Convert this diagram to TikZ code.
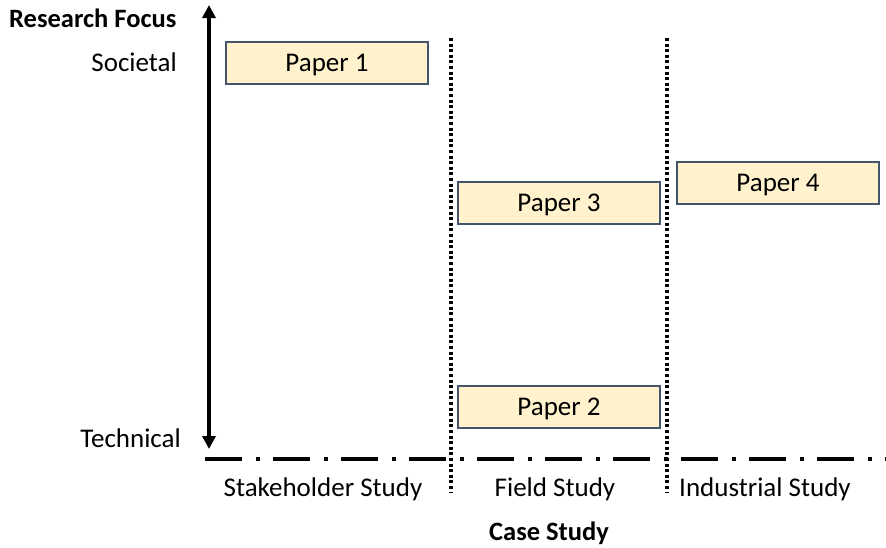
\documentclass[tikz,border=0pt]{standalone}
\usepackage{fontspec}
\setmainfont{Carlito}
\usetikzlibrary{arrows.meta}
\definecolor{paperfill}{HTML}{FFF2CC}
\definecolor{paperedge}{HTML}{44546A}
\begin{document}
\begin{tikzpicture}[x=1pt,y=-1pt,
  txt/.style={inner sep=0pt, font=\fontsize{27}{31}\selectfont},
  boldtxt/.style={txt, font=\fontsize{26.5}{31}\selectfont\bfseries},
  paper/.style={draw=paperedge, fill=paperfill, line width=1.3pt,
    minimum width=202pt, minimum height=42pt, inner sep=0pt, text depth=0pt,
    font=\fontsize{27}{31}\selectfont},
  divider/.style={line width=3.2pt, dash pattern=on 3pt off 2.6pt},
  baseline/.style={line width=4.5pt, dash pattern=on 37pt off 14pt on 4pt off 13pt}]
\useasboundingbox (0,0) rectangle (886,547);

% vertical axis
\coordinate (top) at (209,5);
\coordinate (bot) at (209,449);
\draw[line width=4pt, {Triangle[length=13pt,width=13pt]}-{Triangle[length=13pt,width=13pt]}] (top) -- (bot);

% horizontal axis
\coordinate (hl) at (205,459);
\coordinate (hr) at (886,459);
\draw[baseline] (hl) -- (hr);

% column dividers
\coordinate (d1t) at (451,38);
\coordinate (d1b) at (451,493);
\coordinate (d2t) at (667,38);
\coordinate (d2b) at (667,493);
\draw[divider] (d1t) -- (d1b);
\draw[divider] (d2t) -- (d2b);

% axis labels
\node[boldtxt, anchor=west] (rf) at (9,18) {Research Focus};
\node[txt, anchor=east] (soc) at (177,62) {Societal};
\node[txt, anchor=east] (tech) at (181,438) {Technical};
\node[txt] (stake) at (323,489) {Stakeholder Study};
\node[txt] (field) at (555,489) {Field Study};
\node[txt] (indu) at (765,489) {Industrial Study};
\node[boldtxt] (cs) at (549,533) {Case Study};

% papers
\node[paper] (p1) at (327,63) {Paper 1};
\node[paper] (p3) at (559,203) {Paper 3};
\node[paper] (p4) at (778,183) {Paper 4};
\node[paper] (p2) at (559,407) {Paper 2};
\end{tikzpicture}
\end{document}
